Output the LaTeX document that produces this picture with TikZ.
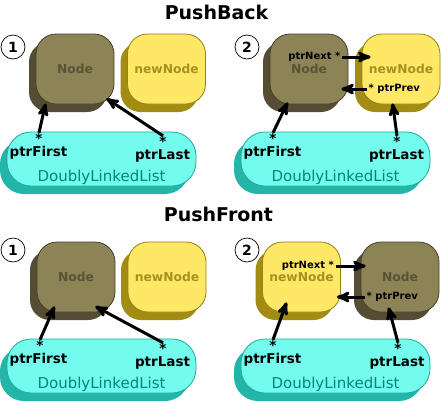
\documentclass[tikz,border=0pt]{standalone}
\usepackage{fontspec}
\setmainfont{DejaVu Sans}
\usepackage{tikz}
\usetikzlibrary{positioning,arrows,shadows}

\definecolor{nodefill}{RGB}{140,132,86}
\definecolor{nodeshade}{RGB}{85,77,51}
\definecolor{nodeline}{RGB}{70,64,42}
\definecolor{nodetext}{RGB}{90,82,52}
\definecolor{newfill}{RGB}{255,232,101}
\definecolor{newshade}{RGB}{163,140,20}
\definecolor{newline}{RGB}{150,128,20}
\definecolor{newtext}{RGB}{168,144,32}
\definecolor{listfill}{RGB}{115,252,238}
\definecolor{listshade}{RGB}{34,181,168}
\definecolor{listline}{RGB}{30,170,155}
\definecolor{listtext}{RGB}{0,135,120}

\tikzset{
  shadowed/.style={drop shadow={shadow xshift=-7pt,shadow yshift=-8pt,fill=#1,opacity=1}},
  oldnode/.style={rectangle,rounded corners=20pt,draw=nodeline,fill=nodefill,line width=0.8pt,
    minimum width=78pt,minimum height=70pt,inner sep=0pt,text=nodetext,
    font=\bfseries\fontsize{12.3}{14}\selectfont,shadowed=nodeshade},
  freshnode/.style={rectangle,rounded corners=20pt,draw=newline,fill=newfill,line width=0.8pt,
    minimum width=78pt,minimum height=70pt,inner sep=0pt,text=newtext,
    font=\bfseries\fontsize{12.3}{14}\selectfont,shadowed=newshade},
  listbox/.style={rectangle,rounded corners=24pt,draw=listline,fill=listfill,line width=0.8pt,
    minimum width=189pt,minimum height=54pt,inner sep=0pt,shadowed=listshade},
  listname/.style={anchor=base,inner sep=0pt,text=listtext,font=\fontsize{15}{18}\selectfont},
  ptrname/.style={anchor=base,inner sep=0pt,font=\bfseries\fontsize{13.5}{16}\selectfont},
  linkname/.style={inner sep=1.5pt,font=\bfseries\fontsize{10}{12}\selectfont},
  stepmark/.style={circle,draw,fill=white,line width=0.7pt,minimum size=24pt,inner sep=0pt,
    font=\bfseries\fontsize{14}{16}\selectfont},
  heading/.style={anchor=base,font=\bfseries\fontsize{19}{22}\selectfont},
  ptr/.style={->,line width=3pt}
}

\begin{document}
\begin{tikzpicture}[x=1pt,y=-1pt,>=stealth',on grid]
\fill[white] (0,0) rectangle (441,400);
\useasboundingbox (0,0) rectangle (441,400);

\node[heading] (backT)  at (216.5,19)  {PushBack};
\node[heading] (frontT) at (218.5,221) {PushFront};

% push back, before
\begin{scope}
   \node [stepmark]  (oneA)   at (13,47)      {1};
   \node [oldnode]   (nodeA)  at (75,69)      {Node};
   \node [freshnode] (newA)   [right=91.5pt of nodeA] {newNode};
   \node [listbox]   (listA)  at (101.5,159)  {};
   \node [listname]  (lnameA) at (101.5,181)  {DoublyLinkedList};
   \node [ptrname]   (firstA) at (38.5,156)   {ptrFirst};
   \node [ptrname]   (fstarA) at (39,143)     {*};
   \node [ptrname]   (lastA)  at (162.5,159)  {ptrLast};
   \node [ptrname]   (lstarA) at (163,146)    {*};
   \draw [ptr] (fstarA.north) -- ([xshift=10pt,yshift=1pt]nodeA.south west);
   \draw [ptr] (lstarA.north) -- ([xshift=-8pt,yshift=6pt]nodeA.south east);
\end{scope}

% push back, after
\begin{scope}[shift={(234,0)}]
   \node [stepmark]  (twoB)   at (13,47)      {2};
   \node [oldnode]   (nodeB)  at (75,69)      {Node};
   \node [freshnode] (newB)   [right=92pt of nodeB] {newNode};
   \node [listbox]   (listB)  at (101.5,159)  {};
   \node [listname]  (lnameB) at (101.5,181)  {DoublyLinkedList};
   \node [ptrname]   (firstB) at (38.5,156)   {ptrFirst};
   \node [ptrname]   (fstarB) at (39,143)     {*};
   \node [ptrname]   (lastB)  at (162.5,159)  {ptrLast};
   \node [ptrname]   (lstarB) at (163,146)    {*};
   \node [linkname,anchor=east] (nextB) at (108,57) {ptrNext *};
   \node [linkname,anchor=west] (prevB) at (133,89) {* ptrPrev};
   \draw [ptr] (nextB.east) -- ([xshift=9pt,yshift=12pt]newB.west);
   \draw [ptr] (prevB.west) -- ([xshift=-7pt,yshift=-20pt]nodeB.east);
   \draw [ptr] (fstarB.north) -- ([xshift=18pt,yshift=2pt]nodeB.south west);
   \draw [ptr] (lstarB.north) -- ([xshift=31pt,yshift=1pt]newB.south west);
\end{scope}

% push front, before
\begin{scope}[shift={(0,208)}]
   \node [stepmark]  (oneC)   at (13,42)      {1};
   \node [oldnode]   (nodeC)  at (76,69)      {Node};
   \node [freshnode] (newC)   [right=91pt of nodeC] {newNode};
   \node [listbox]   (listC)  at (101.5,158)  {};
   \node [listname]  (lnameC) at (101.5,180)  {DoublyLinkedList};
   \node [ptrname]   (firstC) at (38.5,155)   {ptrFirst};
   \node [ptrname]   (fstarC) at (40,142)     {*};
   \node [ptrname]   (lastC)  at (162.5,158)  {ptrLast};
   \node [ptrname]   (lstarC) at (163,145)    {*};
   \draw [ptr] (fstarC.north) -- ([xshift=18pt,yshift=6pt]nodeC.south west);
   \draw [ptr] (lstarC.north) -- ([xshift=-20pt,yshift=6pt]nodeC.south east);
\end{scope}

% push front, after
\begin{scope}[shift={(234,208)}]
   \node [stepmark]  (twoD)   at (13,42)      {2};
   \node [freshnode] (newD)   at (67.5,69)    {newNode};
   \node [oldnode]   (nodeD)  [right=98.5pt of newD] {Node};
   \node [listbox]   (listD)  at (101.5,158)  {};
   \node [listname]  (lnameD) at (101.5,180)  {DoublyLinkedList};
   \node [ptrname]   (firstD) at (38.5,155)   {ptrFirst};
   \node [ptrname]   (fstarD) at (39,142)     {*};
   \node [ptrname]   (lastD)  at (163,158)    {ptrLast};
   \node [ptrname]   (lstarD) at (164,145)    {*};
   \node [linkname,anchor=east] (nextD) at (101.5,58) {ptrNext *};
   \node [linkname,anchor=west] (prevD) at (131,89)   {* ptrPrev};
   \draw [ptr] (nextD.east) -- ([xshift=5pt,yshift=11pt]nodeD.west);
   \draw [ptr] (prevD.west) -- ([xshift=-4pt,yshift=-20pt]newD.east);
   \draw [ptr] (fstarD.north) -- ([xshift=24.5pt,yshift=10pt]newD.south west);
   \draw [ptr] (lstarD.north) -- ([xshift=28pt,yshift=5pt]nodeD.south west);
\end{scope}
\end{tikzpicture}
\end{document}
